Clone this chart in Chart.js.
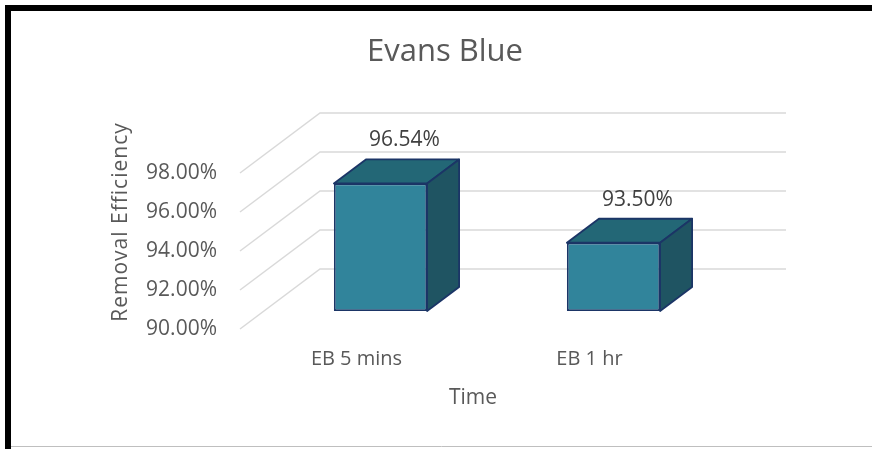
<!DOCTYPE html>
<html>
<head>
<meta charset="utf-8">
<script src="https://cdn.jsdelivr.net/npm/chart.js@4.4.1/dist/chart.umd.min.js"></script>
<style>
  html, body { margin: 0; padding: 0; background: #fff; }
</style>
</head>
<body>
<canvas id="chart" width="872" height="449"></canvas>
<script>
const categories = ["EB 5 mins", "EB 1 hr"];
const efficiency = [96.54, 93.50];
const yMin = 90, yMax = 98, yStep = 2;

const TEXT = "#595959";
const FONT = "'Open Sans', sans-serif";
const EDGE = "#1b3566";
// fake 3D: full floor depth, bars sit from 30% to 70% of it
const DEPTH_X = 80, DEPTH_Y = -60;
const FRONT = 0.3, BAR_DEPTH = 0.4;

const box3d = {
  id: "box3d",
  beforeDraw(chart) {
    const ctx = chart.ctx;
    ctx.save();
    ctx.fillStyle = "#fff";
    ctx.fillRect(0, 0, chart.width, chart.height);
    // frame
    ctx.fillStyle = "#000";
    ctx.fillRect(5, 5, chart.width - 5, 6);
    ctx.fillRect(5, 5, 6, chart.height - 5);
    ctx.strokeStyle = "#bfbfbf";
    ctx.lineWidth = 1;
    ctx.beginPath();
    ctx.moveTo(11, 446.5);
    ctx.lineTo(chart.width, 446.5);
    ctx.stroke();
    ctx.restore();
  },
  beforeDatasetsDraw(chart) {
    const { ctx, chartArea: a, scales: { y } } = chart;
    ctx.save();
    ctx.strokeStyle = "#d9d9d9";
    ctx.lineWidth = 1.5;
    y.ticks.forEach(t => {
      const py = y.getPixelForValue(t.value);
      ctx.beginPath();
      ctx.moveTo(a.left, py);
      ctx.lineTo(a.left + DEPTH_X, py + DEPTH_Y);
      ctx.lineTo(a.right + DEPTH_X, py + DEPTH_Y);
      ctx.stroke();
    });
    ctx.restore();
    // front faces are drawn by Chart.js, pushed back into the box
    ctx.save();
    ctx.translate(DEPTH_X * FRONT, DEPTH_Y * FRONT);
  },
  afterDatasetsDraw(chart) {
    const ctx = chart.ctx;
    ctx.restore();
    const ox = DEPTH_X * FRONT, oy = DEPTH_Y * FRONT;
    const dx = DEPTH_X * BAR_DEPTH, dy = DEPTH_Y * BAR_DEPTH;
    const values = chart.data.datasets[0].data;
    chart.getDatasetMeta(0).data.forEach((bar, i) => {
      const { x, y, base, width } = bar.getProps(["x", "y", "base", "width"], true);
      const l = x - width / 2 + ox, r = x + width / 2 + ox;
      const t = y + oy, b = base + oy;
      ctx.save();
      ctx.lineJoin = "round";
      ctx.strokeStyle = EDGE;
      ctx.lineWidth = 1.8;
      // top
      ctx.fillStyle = "#236776";
      ctx.beginPath();
      ctx.moveTo(l, t);
      ctx.lineTo(l + dx, t + dy);
      ctx.lineTo(r + dx, t + dy);
      ctx.lineTo(r, t);
      ctx.closePath();
      ctx.fill();
      ctx.stroke();
      // side
      ctx.fillStyle = "#1f5462";
      ctx.beginPath();
      ctx.moveTo(r, t);
      ctx.lineTo(r + dx, t + dy);
      ctx.lineTo(r + dx, b + dy);
      ctx.lineTo(r, b);
      ctx.closePath();
      ctx.fill();
      ctx.stroke();
      // value label
      ctx.fillStyle = "#404040";
      ctx.font = "21px " + FONT;
      ctx.textAlign = "center";
      ctx.textBaseline = "middle";
      ctx.fillText(values[i].toFixed(2) + "%", x + ox + 24, t + dy - 19);
      ctx.restore();
    });
  },
  afterDraw(chart) {
    const ctx = chart.ctx;
    ctx.save();
    ctx.fillStyle = TEXT;
    ctx.textAlign = "center";
    ctx.textBaseline = "middle";
    ctx.font = "31px " + FONT;
    ctx.fillText("Evans Blue", 445, 52);
    // y axis title
    ctx.translate(121, 222);
    ctx.rotate(-Math.PI / 2);
    ctx.font = "21px " + FONT;
    ctx.letterSpacing = "1px";
    ctx.fillText("Removal Efficiency", 0, 0);
    ctx.restore();
  }
};

new Chart(document.getElementById("chart"), {
  type: "bar",
  data: {
    labels: categories,
    datasets: [{
      data: efficiency,
      base: yMin,
      backgroundColor: "#31849b",
      borderColor: EDGE,
      borderWidth: 1.8,
      borderSkipped: false,
      categoryPercentage: 1,
      barPercentage: 0.4
    }]
  },
  options: {
    responsive: false,
    animation: false,
    devicePixelRatio: 1,
    layout: { padding: { left: 12, right: 166, top: 173, bottom: 38 } },
    plugins: {
      legend: { display: false },
      tooltip: { enabled: false }
    },
    scales: {
      x: {
        grid: { display: false },
        border: { display: false },
        ticks: { color: TEXT, font: { family: FONT, size: 20 }, padding: 10 },
        title: { display: true, text: "Time", color: TEXT, font: { family: FONT, size: 21 }, padding: 0 },
        afterFit: s => { s.height = 82; }
      },
      y: {
        min: yMin,
        max: yMax,
        grid: { display: false },
        border: { display: false },
        ticks: {
          stepSize: yStep,
          color: TEXT,
          font: { family: FONT, size: 21 },
          padding: 15,
          callback: v => v.toFixed(2) + "%"
        },
        afterFit: s => { s.width = 228; }
      }
    }
  },
  plugins: [box3d]
});
</script>
</body>
</html>
